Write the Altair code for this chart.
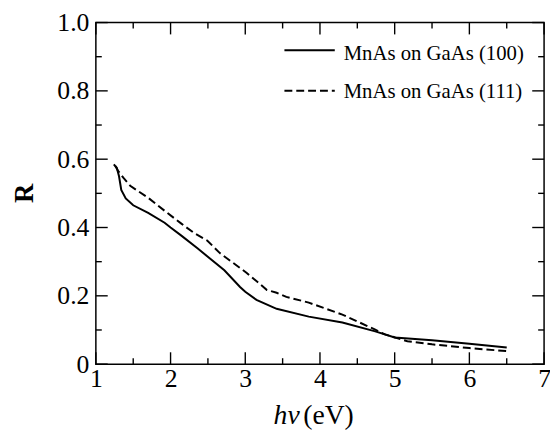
import altair as alt
import pandas as pd

# ---- data ----
x100 = [1.24, 1.28, 1.31, 1.34, 1.40, 1.50, 1.70, 1.92, 2.00, 2.14, 2.36, 2.72, 2.93, 3.00,
        3.15, 3.42, 3.85, 4.30, 4.74, 5.00, 5.50, 6.00, 6.50]
r100 = [0.585, 0.575, 0.550, 0.510, 0.485, 0.465, 0.443, 0.414, 0.400, 0.377, 0.339, 0.275,
        0.226, 0.212, 0.188, 0.162, 0.139, 0.122, 0.096, 0.078, 0.070, 0.060, 0.049]
x111 = [1.26, 1.30, 1.37, 1.46, 1.70, 1.92, 2.14, 2.32, 2.49, 2.66, 3.02, 3.29, 3.42, 3.55,
        3.85, 4.30, 4.74, 4.87, 5.17, 5.50, 6.00, 6.50]
r111 = [0.580, 0.565, 0.545, 0.522, 0.487, 0.449, 0.412, 0.383, 0.362, 0.325, 0.267, 0.217,
        0.209, 0.197, 0.180, 0.145, 0.101, 0.087, 0.067, 0.058, 0.047, 0.038]

series_labels = ["MnAs on GaAs (100)", "MnAs on GaAs (111)"]
x_major = [1, 2, 3, 4, 5, 6, 7]
x_minor = [1.5, 2.5, 3.5, 4.5, 5.5, 6.5]
y_major = [0, 0.2, 0.4, 0.6, 0.8, 1.0]
y_minor = [0.1, 0.3, 0.5, 0.7, 0.9]

W, H = 454, 346
FONT = "Liberation Serif"

xs = alt.Scale(domain=[1, 7], nice=False, zero=False)
ys = alt.Scale(domain=[0, 1], nice=False, zero=False)

xaxis = alt.Axis(values=x_major, format="d", title=None, domain=False, ticks=False, grid=False,
                 labelFont=FONT, labelFontSize=26, labelColor="black", labelPadding=2,
                 labelFlush=False)
yaxis = alt.Axis(values=y_major, title=None, domain=False, ticks=False, grid=False,
                 labelFont=FONT, labelFontSize=26, labelColor="black", labelPadding=7,
                 labelFlush=False,
                 labelExpr="datum.value == 0 ? '0' : format(datum.value, '.1f')")

df100 = pd.DataFrame({"x": x100, "r": r100})
df111 = pd.DataFrame({"x": x111, "r": r111})

line100 = alt.Chart(df100).mark_line(color="black", strokeWidth=2).encode(
    x=alt.X("x:Q", scale=xs, axis=xaxis),
    y=alt.Y("r:Q", scale=ys, axis=yaxis),
)
line111 = alt.Chart(df111).mark_line(color="black", strokeWidth=2, strokeDash=[8, 4]).encode(
    x=alt.X("x:Q", scale=xs, axis=xaxis),
    y=alt.Y("r:Q", scale=ys, axis=yaxis),
)

def xticks(vals, length):
    d = pd.DataFrame({"x": vals})
    bottom = alt.Chart(d).mark_rule(color="black", strokeWidth=1.4).encode(
        x=alt.X("x:Q", scale=xs, axis=xaxis), y=alt.value(H), y2=alt.value(H - length))
    top = alt.Chart(d).mark_rule(color="black", strokeWidth=1.4).encode(
        x=alt.X("x:Q", scale=xs, axis=xaxis), y=alt.value(0), y2=alt.value(length))
    return [bottom, top]

def yticks(vals, length):
    d = pd.DataFrame({"r": vals})
    left = alt.Chart(d).mark_rule(color="black", strokeWidth=1.4).encode(
        y=alt.Y("r:Q", scale=ys, axis=yaxis), x=alt.value(0), x2=alt.value(length))
    right = alt.Chart(d).mark_rule(color="black", strokeWidth=1.4).encode(
        y=alt.Y("r:Q", scale=ys, axis=yaxis), x=alt.value(W), x2=alt.value(W - length))
    return [left, right]

ticks = xticks(x_major, 12) + xticks(x_minor, 6) + yticks(y_major, 12) + yticks(y_minor, 6)

base = alt.Chart(pd.DataFrame({"a": [0]}))
leg_line1 = base.mark_rule(color="black", strokeWidth=2).encode(
    x=alt.value(191), x2=alt.value(242), y=alt.value(28))
leg_line2 = base.mark_rule(color="black", strokeWidth=2, strokeDash=[8, 4]).encode(
    x=alt.value(191), x2=alt.value(242), y=alt.value(69))
leg_text1 = base.mark_text(align="left", baseline="middle", font=FONT, fontSize=21,
                           color="black").encode(
    x=alt.value(251), y=alt.value(32), text=alt.value(series_labels[0]))
leg_text2 = base.mark_text(align="left", baseline="middle", font=FONT, fontSize=21,
                           color="black").encode(
    x=alt.value(251), y=alt.value(70), text=alt.value(series_labels[1]))

xtitle_hv = base.mark_text(align="left", baseline="middle", font=FONT, fontSize=28,
                           fontStyle="italic", color="black").encode(
    x=alt.value(180), y=alt.value(399), text=alt.value("hν"))
xtitle_ev = base.mark_text(align="left", baseline="middle", font=FONT, fontSize=28,
                           color="black").encode(
    x=alt.value(210), y=alt.value(399), text=alt.value("(eV)"))
ytitle = base.mark_text(align="center", baseline="middle", font=FONT, fontSize=27,
                        fontWeight="bold", angle=270, color="black").encode(
    x=alt.value(-72), y=alt.value(173), text=alt.value("R"))

chart = alt.layer(line100, line111, *ticks, leg_line1, leg_line2, leg_text1, leg_text2,
                  xtitle_hv, xtitle_ev, ytitle).properties(
    width=W, height=H,
    autosize=alt.AutoSizeParams(type="none"),
    padding={"left": 89, "top": 12, "right": 6, "bottom": 66},
    background="white",
).configure_view(stroke="black", strokeWidth=1.5)

chart.save("out.html", embed_options={"renderer": "svg", "actions": False})
